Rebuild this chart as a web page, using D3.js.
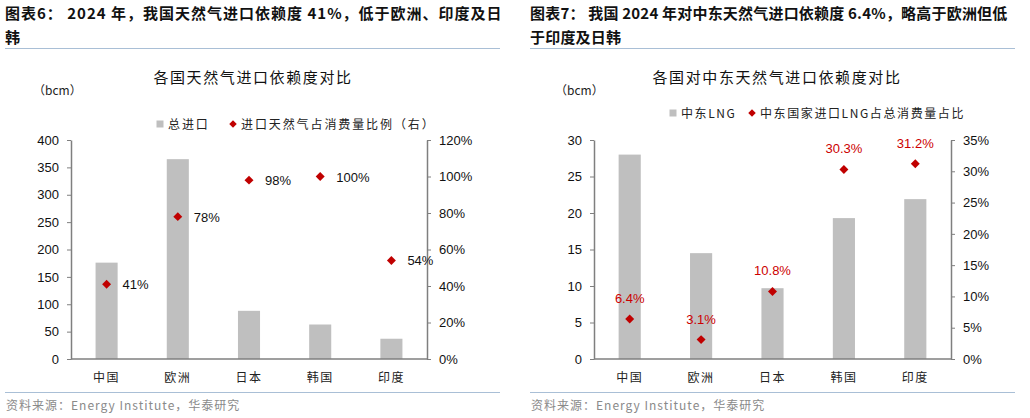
<!DOCTYPE html>
<html>
<head>
<meta charset="utf-8">
<script src="https://cdn.jsdelivr.net/npm/d3@7"></script>
<style>
  body { margin: 0; background: #fff; }
  svg { display: block; font-family: "Liberation Sans", Arial, "Noto Sans CJK SC", sans-serif; }
  .cjk { font-family: "Noto Sans CJK SC", sans-serif; }
</style>
</head>
<body>
<svg id="chart" width="1030" height="418"></svg>
<script>
// 数据
const countries = ["中国", "欧洲", "日本", "韩国", "印度"];

// 图表6
const totalImport = [176, 365, 88, 63, 37];        // bcm
const importShare = [41, 78, 98, 100, 54];          // %
const leftTicks1 = [0, 50, 100, 150, 200, 250, 300, 350, 400];
const rightTicks1 = [0, 20, 40, 60, 80, 100, 120];

// 图表7
const meLng = [28, 14.5, 9.7, 19.3, 21.9];          // bcm
const meShare = [6.4, 3.1, 10.8, 30.3, 31.2];       // %
const leftTicks2 = [0, 5, 10, 15, 20, 25, 30];
const rightTicks2 = [0, 5, 10, 15, 20, 25, 30, 35];

const svg = d3.select("#chart");
const axisColor = "#7f7f7f";
const barColor = "#bfbfbf";
const red = "#c00000";

function panel(cfg) {
    const g = svg.append("g").attr("transform", `translate(${cfg.ox},0)`);

    // 标题
    g.append("text").attr("class", "cjk")
        .attr("x", cfg.hx).attr("y", 19)
        .attr("font-size", 15).attr("font-weight", "bold").attr("fill", "#111")
        .attr("letter-spacing", cfg.headLs)
        .text(cfg.head1);
    g.append("text").attr("class", "cjk")
        .attr("x", cfg.hx).attr("y", 43)
        .attr("font-size", 15).attr("font-weight", "bold").attr("fill", "#111")
        .attr("letter-spacing", cfg.headLs)
        .text(cfg.head2);
    g.append("line")
        .attr("x1", cfg.hx).attr("x2", 500).attr("y1", 48.5).attr("y2", 48.5)
        .attr("stroke", "#a9bfd6").attr("stroke-width", 1);

    // 图标题
    g.append("text").attr("class", "cjk")
        .attr("x", cfg.titleX).attr("y", 83)
        .attr("text-anchor", "middle")
        .attr("font-size", 15).attr("letter-spacing", 1.6).attr("fill", "#111")
        .text(cfg.title);
    g.append("text")
        .attr("x", cfg.unitX).attr("y", 95)
        .attr("font-size", 12).attr("fill", "#222")
        .text("（bcm）").attr("class", "cjk");

    // 比例尺
    const x = d3.scaleBand().domain(countries).range([cfg.x0, cfg.x1]).padding(0);
    const yL = d3.scaleLinear().domain(cfg.leftDomain).range([359, 140]);
    const yR = d3.scaleLinear().domain(cfg.rightDomain).range([359, 140]);
    const bw = x.bandwidth() * 0.31;

    // 柱
    g.append("g").selectAll("rect")
        .data(cfg.bars)
        .enter().append("rect")
        .attr("x", (d, i) => x(countries[i]) + x.bandwidth() / 2 - bw / 2)
        .attr("y", d => yL(d))
        .attr("width", bw)
        .attr("height", d => yL(0) - yL(d))
        .attr("fill", barColor);

    // 坐标轴
    const axL = g.append("g").attr("transform", `translate(${cfg.x0},0)`)
        .call(d3.axisLeft(yL).tickValues(cfg.leftTicks).tickSize(4).tickSizeOuter(0).tickPadding(8));
    const axR = g.append("g").attr("transform", `translate(${cfg.x1},0)`)
        .call(d3.axisRight(yR).tickValues(cfg.rightTicks).tickSize(4).tickSizeOuter(0).tickPadding(8)
            .tickFormat(d => d + "%"));
    [axL, axR].forEach(a => {
        a.select(".domain").attr("stroke", axisColor).attr("stroke-width", 1.5);
        a.selectAll(".tick line").attr("stroke", axisColor);
        a.selectAll(".tick text").attr("font-size", 13).attr("fill", "#111")
            .attr("font-family", "Liberation Sans, Arial, sans-serif");
    });
    g.append("line")
        .attr("x1", cfg.x0).attr("x2", cfg.x1).attr("y1", yL(0)).attr("y2", yL(0))
        .attr("stroke", axisColor).attr("stroke-width", 1.5);

    g.append("g").selectAll("text")
        .data(countries)
        .enter().append("text").attr("class", "cjk")
        .attr("x", d => x(d) + x.bandwidth() / 2)
        .attr("y", 382)
        .attr("text-anchor", "middle")
        .attr("font-size", 12).attr("letter-spacing", 1.5).attr("fill", "#222")
        .text(d => d);

    // 菱形点
    const diamond = d3.symbol().type(d3.symbolSquare).size(40);
    g.append("g").selectAll("path")
        .data(cfg.points)
        .enter().append("path")
        .attr("d", diamond)
        .attr("transform", (d, i) => `translate(${x(countries[i]) + x.bandwidth() / 2},${yR(d)}) rotate(45)`)
        .attr("fill", red);

    // 数据标签
    g.append("g").selectAll("text")
        .data(cfg.points)
        .enter().append("text")
        .attr("x", (d, i) => x(countries[i]) + x.bandwidth() / 2 + cfg.labelDx)
        .attr("y", d => yR(d) + cfg.labelDy)
        .attr("text-anchor", cfg.labelAnchor)
        .attr("font-size", 13).attr("fill", cfg.labelColor)
        .text(d => d + "%");

    // 图例
    g.append("rect")
        .attr("x", cfg.leg1 - 3.5).attr("y", cfg.legY - 3.5).attr("width", 7).attr("height", 7)
        .attr("fill", barColor);
    g.append("text").attr("class", "cjk")
        .attr("x", cfg.leg1 + 8).attr("y", cfg.legY + 4.5)
        .attr("font-size", 12).attr("letter-spacing", cfg.legLs).attr("fill", "#222")
        .text(cfg.legText1);
    g.append("path")
        .attr("d", d3.symbol().type(d3.symbolSquare).size(28))
        .attr("transform", `translate(${cfg.leg2},${cfg.legY}) rotate(45)`)
        .attr("fill", red);
    g.append("text").attr("class", "cjk")
        .attr("x", cfg.leg2 + 8).attr("y", cfg.legY + 4.5)
        .attr("font-size", 12).attr("letter-spacing", cfg.legLs).attr("fill", "#222")
        .text(cfg.legText2);

    // 资料来源
    g.append("line")
        .attr("x1", cfg.hx).attr("x2", 500).attr("y1", 392.5).attr("y2", 392.5)
        .attr("stroke", "#a9bfd6").attr("stroke-width", 1);
    g.append("text").attr("class", "cjk")
        .attr("x", cfg.hx + 1).attr("y", 410)
        .attr("font-size", 12).attr("letter-spacing", 1).attr("fill", "#8a8a8a")
        .text("资料来源：Energy Institute，华泰研究");
}

panel({
    ox: 0, hx: 5, headLs: 1,
    head1: "图表6： 2024 年，我国天然气进口依赖度 41%，低于欧洲、印度及日",
    head2: "韩",
    title: "各国天然气进口依赖度对比", titleX: 253, unitX: 33,
    x0: 71, x1: 427,
    leftDomain: [0, 400], rightDomain: [0, 120],
    leftTicks: leftTicks1, rightTicks: rightTicks1,
    bars: totalImport, points: importShare,
    labelDx: 16, labelDy: 5, labelAnchor: "start", labelColor: "#111",
    legY: 124, leg1: 160, leg2: 233, legLs: 1.9,
    legText1: "总进口", legText2: "进口天然气占消费量比例（右）"
});

panel({
    ox: 515, hx: 15, headLs: 0.2,
    head1: "图表7： 我国 2024 年对中东天然气进口依赖度 6.4%，略高于欧洲但低",
    head2: "于印度及日韩",
    title: "各国对中东天然气进口依赖度对比", titleX: 262, unitX: 40,
    x0: 79, x1: 436,
    leftDomain: [0, 30], rightDomain: [0, 35],
    leftTicks: leftTicks2, rightTicks: rightTicks2,
    bars: meLng, points: meShare,
    labelDx: 0, labelDy: -16, labelAnchor: "middle", labelColor: "#cc0000",
    legY: 113, leg1: 158, leg2: 237, legLs: 1.6,
    legText1: "中东LNG", legText2: "中东国家进口LNG占总消费量占比"
});
</script>
</body>
</html>
